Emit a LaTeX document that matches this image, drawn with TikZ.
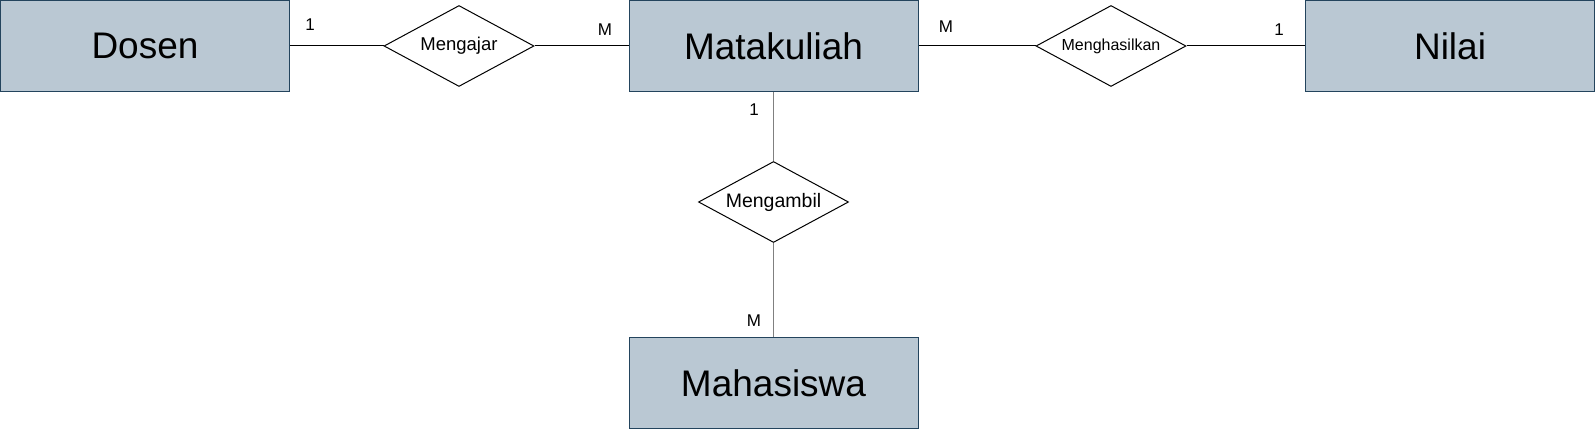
\documentclass[tikz,border=0pt]{standalone}
\usepackage{fontspec}
\setmainfont{Liberation Sans}
\usetikzlibrary{shapes.geometric}
\definecolor{entfill}{HTML}{BAC8D3}
\definecolor{entdraw}{HTML}{23445D}
\definecolor{vline}{HTML}{808080}
\tikzset{
  entity/.style={rectangle, draw=entdraw, fill=entfill, line width=1pt,
    minimum width=289pt, minimum height=91pt, inner sep=0pt,
    font=\fontsize{37}{40}\selectfont},
  rel/.style={diamond, draw=black, fill=white, line width=1pt,
    minimum width=150pt, minimum height=81pt, inner sep=0pt},
  reltext/.style={font=\fontsize{#1}{#1}\selectfont},
  conn/.style={draw=black, line width=1pt},
  vconn/.style={draw=vline, line width=1.3pt},
  card/.style={font=\fontsize{17}{18}\selectfont, inner sep=0pt}
}
\begin{document}
\begin{tikzpicture}[x=1pt,y=1pt]
\useasboundingbox (0,0) rectangle (1595,-430);
\node[entity] (dosen) at (145,-46) {Dosen};
\node[entity] (mk) at (773.5,-46) {Matakuliah};
\node[entity] (nilai) at (1450,-46) {Nilai};
\node[entity] (mhs) at (773.5,-383) {Mahasiswa};
\node[rel, label={[reltext=18.5]center:Mengajar}] (ajar) at (459,-46) {};
\node[rel, label={[reltext=16]center:Menghasilkan}] (hasil) at (1111,-46) {};
\node[rel, label={[reltext=19.5]center:Mengambil}] (ambil) at (773.5,-202) {};
\draw[conn] (dosen.east) -- (ajar.west);
\draw[conn] (ajar.east) -- (mk.west);
\draw[conn] (mk.east) -- (hasil.west);
\draw[conn] (hasil.east) -- (nilai.west);
\draw[vconn] (mk.south) -- (ambil.north);
\draw[vconn] (ambil.south) -- (mhs.north);
\node[card] (c1) at (310,-25) {1};
\node[card] (c2) at (605,-30) {M};
\node[card] (c3) at (946,-27) {M};
\node[card] (c4) at (1279,-30) {1};
\node[card] (c5) at (754,-110) {1};
\node[card] (c6) at (754,-321) {M};
\end{tikzpicture}
\end{document}
